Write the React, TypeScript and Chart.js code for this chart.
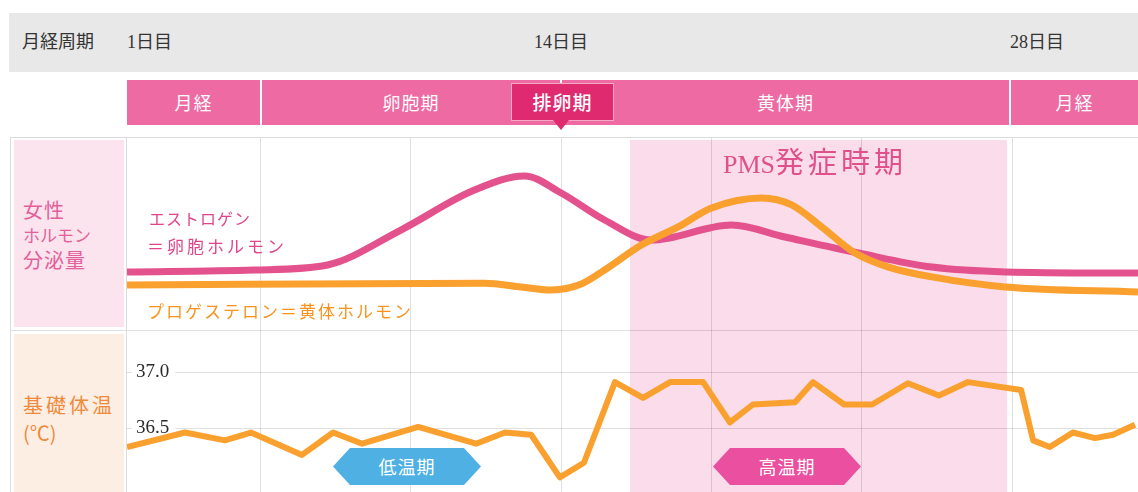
import React, { useEffect, useRef } from 'react';
import { Chart, registerables } from 'chart.js';

Chart.register(...registerables);

// ---- data ----
const cycleLabel = '月経周期';
const cycleDays = ['1日目', '14日目', '28日目'];
const phaseNames = ['月経', '卵胞期', '黄体期', '月経'];
const ovulationLabel = '排卵期';
const hormoneRowLabel = ['女性', 'ホルモン', '分泌量'];
const tempRowLabel = ['基礎体温', '(℃)'];
const estrogenLabel = ['エストロゲン', '＝卵胞ホルモン'];
const progesteroneLabel = 'プロゲステロン＝黄体ホルモン';
const pmsLabel = 'PMS発症時期';
const lowTempLabel = '低温期';
const highTempLabel = '高温期';

// x = day of cycle
const estrogenDays = [1.0, 4.8, 7.0, 9.2, 11.4, 12.9, 14.0, 15.3, 16.7, 19.1, 20.7, 22.9, 25.1, 27.3, 31.27];
const estrogenLevels = [30.1, 31.1, 33.7, 51.8, 72.5, 79.8, 71.0, 57.0, 46.6, 54.4, 48.2, 39.9, 32.6, 30.1, 29.5];

const progesteroneDays = [1.0, 11.7, 12.8, 13.7, 14.6, 15.3, 16.4, 17.5, 18.5, 20.0, 20.9, 21.8, 22.8, 23.8, 25.1, 27.3, 31.27];
const progesteroneLevels = [23.3, 24.2, 22.3, 20.7, 23.8, 31.1, 44.0, 53.4, 63.2, 68.4, 64.8, 53.4, 39.9, 32.6, 27.5, 22.3, 19.7];

const tempDays = [1.0, 2.74, 3.93, 4.71, 6.24, 7.17, 8.04, 9.72, 11.45, 12.32, 13.1, 13.96, 14.68, 15.61, 16.45, 17.26, 18.25, 19.05, 19.74, 21.0, 21.54, 22.47, 23.31, 24.38, 25.31, 26.18, 27.77, 28.13, 28.63, 29.32, 29.98, 30.52, 31.18];
const tempValues = [36.33, 36.46, 36.39, 36.46, 36.26, 36.46, 36.36, 36.51, 36.36, 36.46, 36.44, 36.06, 36.19, 36.91, 36.77, 36.91, 36.91, 36.55, 36.71, 36.73, 36.91, 36.71, 36.71, 36.9, 36.79, 36.91, 36.84, 36.39, 36.33, 36.46, 36.41, 36.44, 36.53];

const tempTicks = [36.5, 37.0];
const gridDays = [5, 9.5, 14, 18.5, 23, 27.5];
const pmsRange = [16.06, 27.35];

// ---- styles ----
const PINK_BAR = '#ee6aa3';
const PINK_DARK = '#df2a70';
const ESTRO = '#e4528d';
const ORANGE = '#f9a02f';
const GRID = 'rgba(0,0,0,0.12)';
const JP = '"Noto Sans CJK JP", "Noto Sans", sans-serif';
const SERIF = '"Liberation Serif", "Noto Sans CJK JP", serif';

const pmsPlugin = {
  id: 'pmsShade',
  beforeDraw(chart: any) {
    const { ctx, chartArea, scales } = chart;
    const x0 = scales.x.getPixelForValue(pmsRange[0]);
    const x1 = scales.x.getPixelForValue(pmsRange[1]);
    ctx.save();
    ctx.fillStyle = '#fbdcea';
    ctx.fillRect(x0, chartArea.top + 3, x1 - x0, chartArea.bottom - chartArea.top - 3);
    ctx.restore();
  },
};

const noPad = (s: any) => {
  s.paddingTop = 0;
  s.paddingBottom = 0;
  s.paddingLeft = 0;
  s.paddingRight = 0;
};
const noPadY = (s: any) => {
  noPad(s);
  s.width = 0;
};

function App() {
  const canvasRef = useRef<HTMLCanvasElement | null>(null);

  useEffect(() => {
    const canvas = canvasRef.current;
    if (!canvas) return;
    const chart = new Chart(canvas, {
      type: 'line',
      data: {
        datasets: [
          {
            label: 'progesterone',
            data: progesteroneDays.map((d, i) => ({ x: d, y: progesteroneLevels[i] })),
            yAxisID: 'yH',
            borderColor: ORANGE,
            borderWidth: 7,
            pointRadius: 0,
            cubicInterpolationMode: 'monotone',
            order: 0,
          },
          {
            label: 'estrogen',
            data: estrogenDays.map((d, i) => ({ x: d, y: estrogenLevels[i] })),
            yAxisID: 'yH',
            borderColor: ESTRO,
            borderWidth: 7,
            pointRadius: 0,
            cubicInterpolationMode: 'monotone',
            order: 1,
          },
          {
            label: 'temperature',
            data: tempDays.map((d, i) => ({ x: d, y: tempValues[i] })),
            yAxisID: 'yT',
            borderColor: ORANGE,
            borderWidth: 6,
            pointRadius: 0,
            tension: 0,
            borderJoinStyle: 'round',
            order: 0,
          },
        ],
      },
      options: {
        animation: false,
        responsive: false,
        events: [],
        layout: { padding: 0, autoPadding: false },
        plugins: { legend: { display: false }, tooltip: { enabled: false } },
        scales: {
          x: {
            type: 'linear',
            min: 1,
            max: 31.27,
            afterBuildTicks: (s: any) => {
              s.ticks = gridDays.map((v) => ({ value: v }));
            },
            afterFit: noPad,
            ticks: { display: false },
            grid: { color: GRID, drawTicks: false, lineWidth: 1 },
            border: { display: false },
          },
          yH: {
            type: 'linear',
            position: 'left',
            stack: 'rows',
            stackWeight: 193,
            weight: 2,
            min: 0,
            max: 100,
            afterFit: noPadY,
            ticks: { display: false },
            grid: { display: false, drawTicks: false },
            border: { display: false },
          },
          yT: {
            type: 'linear',
            position: 'left',
            stack: 'rows',
            stackWeight: 162,
            weight: 1,
            min: 35.929,
            max: 37.375,
            afterBuildTicks: (s: any) => {
              s.ticks = tempTicks.map((v) => ({ value: v }));
            },
            afterFit: noPadY,
            ticks: {
              mirror: true,
              padding: 9,
              color: '#2b2b2b',
              font: { family: '"Liberation Serif", serif', size: 19 },
              callback: (v: any) => Number(v).toFixed(1),
              showLabelBackdrop: true,
              backdropColor: '#ffffff',
              backdropPadding: { left: 4, right: 6, top: 0, bottom: 0 },
            },
            grid: { color: GRID, drawTicks: false, lineWidth: 1 },
            border: { display: false },
          },
        },
      } as any,
      plugins: [pmsPlugin],
    });
    return () => chart.destroy();
  }, []);

  const abs = (s: React.CSSProperties): React.CSSProperties => ({ position: 'absolute', ...s });
  const phaseSegs = [
    [127, 260],
    [262, 560],
    [562, 1009],
    [1011, 1138],
  ];
  const hexClip = 'polygon(17px 0, calc(100% - 17px) 0, 100% 50%, calc(100% - 17px) 100%, 17px 100%, 0 50%)';

  return (
    <div style={abs({ left: 0, top: 0, width: 1138, height: 492, overflow: 'hidden', background: '#fff', fontFamily: JP })}>
      {/* header grey bar */}
      <div style={abs({ left: 9, top: 13, width: 1129, height: 59, background: '#e8e8e8' })} />
      <div style={abs({ left: 22, top: 13, height: 59, lineHeight: '59px', fontSize: 18, color: '#333', fontFamily: SERIF })}>{cycleLabel}</div>
      <div style={abs({ left: 127, top: 13, height: 59, lineHeight: '59px', fontSize: 18, color: '#333', fontFamily: SERIF })}>{cycleDays[0]}</div>
      <div style={abs({ left: 501, width: 120, textAlign: 'center', top: 13, height: 59, lineHeight: '59px', fontSize: 18, color: '#333', fontFamily: SERIF })}>{cycleDays[1]}</div>
      <div style={abs({ left: 1010, top: 13, height: 59, lineHeight: '59px', fontSize: 18, color: '#333', fontFamily: SERIF })}>{cycleDays[2]}</div>

      {/* phase bars */}
      {phaseSegs.map((s, i) => (
        <div key={i} style={abs({ left: s[0], top: 80, width: s[1] - s[0], height: 45, background: PINK_BAR, color: '#fff', fontSize: 18, lineHeight: '45px', textAlign: 'center', letterSpacing: 1 })}>
          {phaseNames[i]}
        </div>
      ))}

      {/* panel frame */}
      <div style={abs({ left: 14, top: 140, width: 110, height: 187, background: '#fce4ee' })} />
      <div style={abs({ left: 14, top: 334, width: 110, height: 158, background: '#fdeee4' })} />

      <div style={abs({ left: 127, top: 137, width: 1011, height: 355 })}>
        <canvas ref={canvasRef} width={1011} height={355} style={{ display: 'block', width: 1011, height: 355 }} />
      </div>

      <div style={abs({ left: 10, top: 137, width: 1128, height: 1, background: '#dcdcdc' })} />
      <div style={abs({ left: 10, top: 330, width: 1128, height: 1, background: 'rgba(0,0,0,0.12)' })} />
      <div style={abs({ left: 10, top: 137, width: 1, height: 355, background: '#dcdcdc' })} />
      <div style={abs({ left: 126, top: 137, width: 1, height: 355, background: '#dcdcdc' })} />

      {/* ovulation badge */}
      <div style={abs({ left: 511, top: 83, width: 101, height: 36, background: PINK_DARK, border: '1px solid #f6a9c6', color: '#fff', fontSize: 19, lineHeight: '36px', textAlign: 'center', fontWeight: 500, letterSpacing: 1 })}>
        {ovulationLabel}
      </div>
      <div style={abs({ left: 553, top: 120, width: 0, height: 0, borderLeft: '8px solid transparent', borderRight: '8px solid transparent', borderTop: `10px solid ${PINK_DARK}` })} />

      {/* row labels */}
      <div style={abs({ left: 23, top: 197, color: '#e3609a', lineHeight: '25px' })}>
        <div style={{ fontSize: 20, letterSpacing: 1 }}>{hormoneRowLabel[0]}</div>
        <div style={{ fontSize: 17 }}>{hormoneRowLabel[1]}</div>
        <div style={{ fontSize: 20, letterSpacing: 1 }}>{hormoneRowLabel[2]}</div>
      </div>
      <div style={abs({ left: 23, top: 391, color: '#ef8a3a', lineHeight: '28px' })}>
        <div style={{ fontSize: 20, letterSpacing: 3 }}>{tempRowLabel[0]}</div>
        <div style={{ fontSize: 20 }}>{tempRowLabel[1]}</div>
      </div>

      {/* series labels */}
      <div style={abs({ left: 149, top: 206, height: 24, lineHeight: '24px', fontSize: 16, letterSpacing: 1, color: '#e0458a' })}>{estrogenLabel[0]}</div>
      <div style={abs({ left: 147, top: 234, height: 24, lineHeight: '24px', fontSize: 17, letterSpacing: 3, color: '#e0458a' })}>{estrogenLabel[1]}</div>
      <div style={abs({ left: 147, top: 299, height: 24, lineHeight: '24px', fontSize: 17, letterSpacing: 2, color: '#f7931e' })}>{progesteroneLabel}</div>

      {/* PMS label */}
      <div style={abs({ left: 723, top: 146, height: 34, lineHeight: '34px', color: '#e0508a', fontFamily: SERIF, whiteSpace: 'nowrap' })}>
        <span style={{ fontSize: 26 }}>{pmsLabel.slice(0, 3)}</span>
        <span style={{ fontSize: 29, letterSpacing: 4 }}>{pmsLabel.slice(3)}</span>
      </div>

      {/* temperature phase badges */}
      <div style={abs({ left: 333, top: 448, width: 148, height: 37, background: '#4fb0e3', clipPath: hexClip, color: '#fff', fontSize: 18, lineHeight: '37px', textAlign: 'center', letterSpacing: 1 })}>
        {lowTempLabel}
      </div>
      <div style={abs({ left: 713, top: 448, width: 148, height: 37, background: '#ea4fa0', clipPath: hexClip, color: '#fff', fontSize: 18, lineHeight: '37px', textAlign: 'center', letterSpacing: 1 })}>
        {highTempLabel}
      </div>
    </div>
  );
}

export default App;
